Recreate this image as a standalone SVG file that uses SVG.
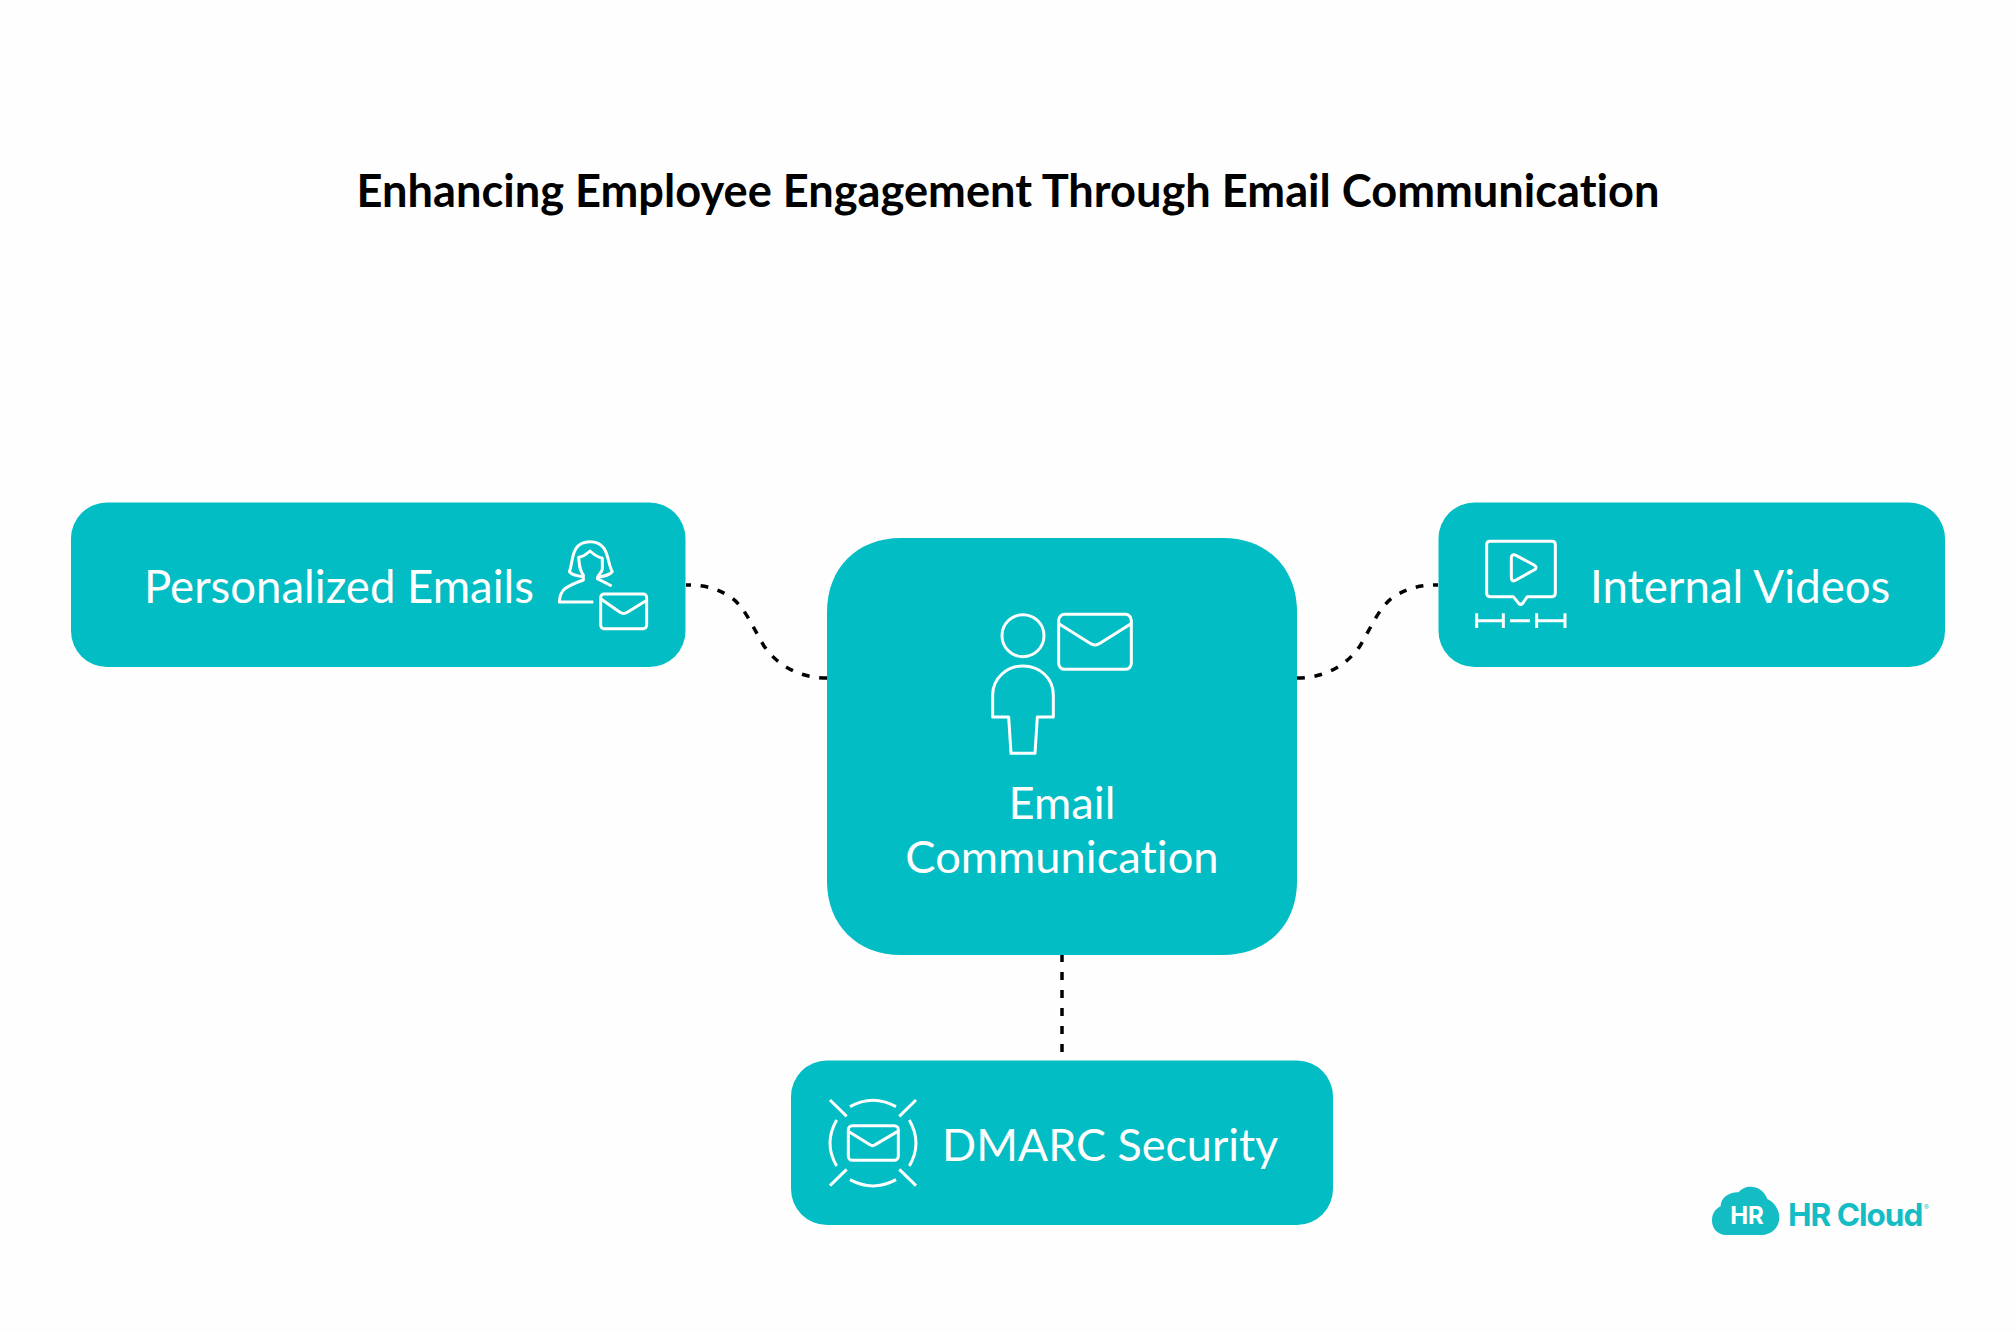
<svg xmlns="http://www.w3.org/2000/svg" width="2016" height="1332" viewBox="0 0 2016 1332">
<style>
.box{fill:#02bdc3}
text{font-variant-ligatures:none}
.t{font-family:Lato,"Liberation Sans",sans-serif;font-size:45.3px;fill:#fff}
.title{font-family:Lato,"Liberation Sans",sans-serif;font-size:45.2px;font-weight:700;fill:#000}
.ic{fill:none;stroke:#fff;stroke-width:9;stroke-linejoin:round}
.c{fill:none;stroke:#000;stroke-width:3.500;stroke-dasharray:8 10}
.logo{font-family:Inter,"Liberation Sans",sans-serif;font-weight:700}
</style>
<rect width="2016" height="1332" fill="#fefefe"/>
<text class="title" x="1008" y="207" text-anchor="middle">Enhancing Employee Engagement Through Email Communication</text>
<g id="connectors">
<path class="c" pathLength="185" d="M827 678C799 678 777 665 764 646C752 626 744 605 729 596C714 587 702 585 686 585"/>
<path class="c" pathLength="185" d="M1297 678C1325 678 1347 665 1360 646C1372 626 1380 605 1395 596C1410 587 1422 585 1438 585"/>
<path class="c" d="M1062 954V1053"/>
</g>
<g id="node-personalized">
<rect class="box" x="71" y="502.500" width="614.500" height="164.500" rx="36"/>
<text class="t" x="144" y="603" font-size="45.500" style="font-size:45.500px">Personalized Emails</text>
<g transform="translate(540 480) scale(.3333)"><path class="ic" d="M130 290C110 288 95 285 88 275C100 250 90 185 150 185C210 185 200 250 217 275C210 285 195 288 172 292"/><path class="ic" d="M160 366H58C60 330 75 320 130 300V285C118 270 118 255 116 232C130 230 140 222 150 213C160 222 175 232 187 235L187 268C185 280 172 285 172 296L215 318"/><rect class="ic" x="182" y="342" width="138" height="104" rx="10"/><path class="ic" d="M184 358L240 397Q251 404 262 397L318 362"/></g>
</g>
<g id="node-email">
<path class="box" d="M901 538H1223C1267 538 1297 568 1297 612V881C1297 925 1267 955 1223 955H901C857 955 827 925 827 881V612C827 568 857 538 901 538Z"/>
<text class="t" x="1062" y="819" text-anchor="middle">Email</text>
<text class="t" x="1062" y="873" text-anchor="middle">Communication</text>
<g transform="translate(960 590) scale(.3333)"><circle class="ic" cx="189" cy="137" r="63"/><path class="ic" d="M98 381V315C98 265 140 228 189 228C240 228 280 265 280 315V381H232L225 490H153L146 381Z"/><rect class="ic" x="296" y="73" width="218" height="165" rx="18"/><path class="ic" d="M298 102L390 160Q405 170 420 160L512 102"/></g>
</g>
<g id="node-videos">
<rect class="box" x="1438.500" y="502.500" width="506.500" height="164.500" rx="36"/>
<text class="t" x="1590" y="603" style="font-size:45.600px">Internal Videos</text>
<g transform="translate(1430 490) scale(.3333)"><path class="ic" d="M180 154H366Q376 154 376 164V310Q376 320 366 320H292L278 340Q272 346 266 340L250 320H180Q170 320 170 310V164Q170 154 180 154Z"/><path class="ic" d="M244 205Q244 190 258 196L312 225Q325 232 312 240L258 270Q244 278 244 262Z"/><path class="ic" d="M140 370V414M140 392H220M220 370V414M240 392H300M320 370V414M320 392H405M405 370V414"/></g>
</g>
<g id="node-dmarc">
<rect class="box" x="791" y="1060.500" width="542" height="164.500" rx="36"/>
<text class="t" x="942" y="1161" style="font-size:44.900px">DMARC Security</text>
<g transform="translate(780 1040) scale(.3333)"><rect class="ic" x="205" y="257" width="150" height="104" rx="12"/><path class="ic" d="M207 275L270 314Q278 320 286 314L352 275"/><path class="ic" d="M210 200Q279 162 348 200M210 419Q279 457 348 419M170 240Q130 310 170 378M388 240Q428 310 388 378M150 180L200 229M408 180L358 229M150 437L200 388M408 437L358 388"/></g>
</g>
<g id="logo">
<path fill="#14bcc4" transform="translate(1690 1169) scale(.3333)" d="M110 198C80 198 66 175 66 155C66 130 80 118 92 112C92 85 120 68 146 70C165 45 215 45 232 90C255 100 268 125 268 145C268 180 240 198 215 198Z"/>
<text class="logo" x="1747" y="1224" font-size="24" fill="#fff" text-anchor="middle">HR</text>
<text class="logo" x="1788" y="1226" font-size="31.500" fill="#14bcc4" letter-spacing="-1">HR Cloud</text>
<text class="logo" x="1924" y="1210" font-size="7" fill="#14bcc4">®</text>
</g>
</svg>
